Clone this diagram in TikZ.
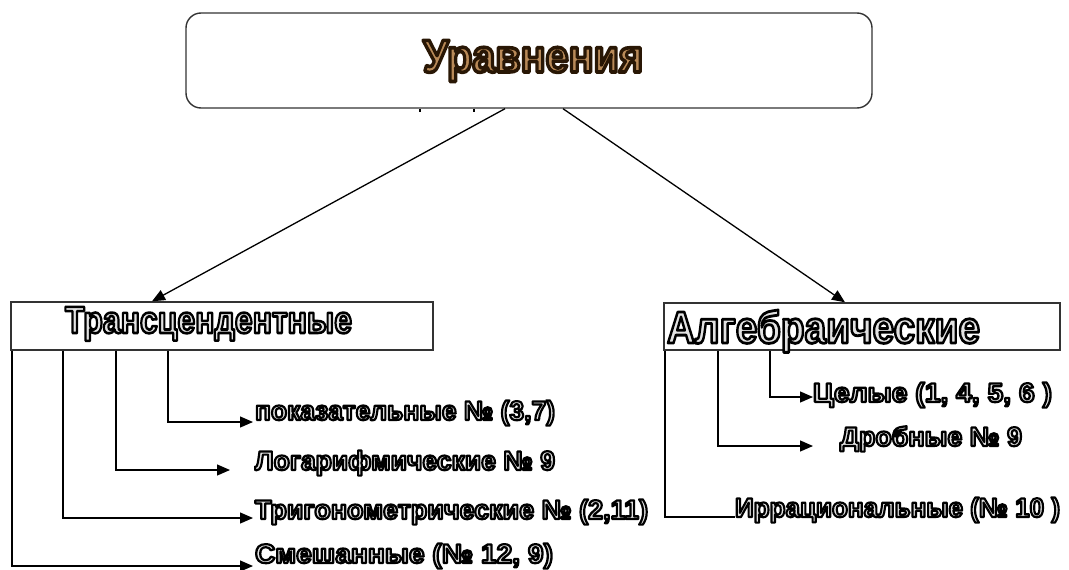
\documentclass[tikz,border=0pt]{standalone}
\usepackage{fontspec}
\setmainfont{Liberation Sans}
\usetikzlibrary{arrows.meta}
\definecolor{fillgray}{HTML}{E2E2E2}
\definecolor{bronze}{HTML}{B98A58}
\newcommand{\outl}[3]{\special{pdf:literal direct #2 RG 2 Tr #1 w 1 j}#3\special{pdf:literal direct 0 Tr}}
\newcommand{\wart}[4]{\resizebox{#1}{\height}{\fontsize{#2}{#2}\selectfont\bfseries\textcolor{fillgray}{\outl{#3}{0 0 0}{#4}}}}
\newcommand{\wtitle}[2]{\resizebox{#1}{\height}{\fontsize{46}{46}\selectfont\bfseries\textcolor{bronze}{\outl{3.6}{0.16 0.09 0.02}{#2}}}}
\tikzset{
  box/.style={draw=black!80, line width=1.4pt, inner sep=0pt},
  lbl/.style={anchor=base west, inner sep=0pt, outer sep=0pt},
  conn/.style={draw=black, line width=1.3pt},
  arr/.style={conn, -{Triangle[length=13pt,width=11pt]}},
}
\begin{document}
\begin{tikzpicture}[x=1pt,y=-1pt]
\useasboundingbox (0,0) rectangle (1069,570);
% boxes
\node[box, rounded corners=15pt, minimum width=686pt, minimum height=95pt] (top) at (529,60.5) {};
\node[box, minimum width=422pt, minimum height=48pt] (trans) at (222,326) {};
\node[box, minimum width=396pt, minimum height=47pt] (alg) at (862,326.5) {};
% titles
\node[lbl] (ttl) at (423,72) {\wtitle{220pt}{Уравнения}};
\node[lbl] (ttr) at (65,333) {\wart{287pt}{38}{2.6}{Трансцендентные}};
\node[lbl] (tal) at (667,343) {\wart{313pt}{45}{2.8}{Алгебраические}};
% x positions
\coordinate (xa) at (505,0);
\coordinate (xb) at (563,0);
\coordinate (xc) at (152,0);
\coordinate (xd) at (845,0);
\coordinate (x1) at (12,0);
\coordinate (x2) at (63,0);
\coordinate (x3) at (116,0);
\coordinate (x4) at (168,0);
\coordinate (x5) at (665,0);
\coordinate (x6) at (718,0);
\coordinate (x7) at (770,0);
\coordinate (k1) at (420,0);
\coordinate (k2) at (474,0);
% arrow ends
\coordinate (e1) at (253,422);
\coordinate (e2) at (230,470);
\coordinate (e3) at (253,518);
\coordinate (e4) at (253,566);
\coordinate (e5) at (813,397);
\coordinate (e6) at (813,446);
\coordinate (e7) at (805,517);
% main connectors
\draw[arr] (top.south -| xa) -- (trans.north -| xc);
\draw[arr] (top.south -| xb) -- (alg.north -| xd);
% small ticks under top box
\draw[conn] (top.south -| k1) -- ++(0,3);
\draw[conn] (top.south -| k2) -- ++(0,3);
% left branch connectors
\draw[arr] (trans.south -| x4) |- (e1);
\draw[arr] (trans.south -| x3) |- (e2);
\draw[arr] (trans.south -| x2) |- (e3);
\draw[arr] (trans.south -| x1) |- (e4);
% right branch connectors
\draw[arr] (alg.south -| x7) |- (e5);
\draw[arr] (alg.south -| x6) |- (e6);
\draw[arr] (alg.south -| x5) |- (e7);
% labels
\node[lbl] (l1) at (255,420) {\wart{300pt}{27}{2.2}{показательные № (3,7)}};
\node[lbl] (l2) at (255,470) {\wart{300pt}{27}{2.2}{Логарифмические № 9}};
\node[lbl] (l3) at (255,519) {\wart{393pt}{27}{2.2}{Тригонометрические № (2,11)}};
\node[lbl] (l4) at (255,563) {\wart{298pt}{27}{2.2}{Смешанные (№ 12, 9)}};
\node[lbl] (r1) at (813,402) {\wart{239pt}{27}{2.2}{Целые (1, 4, 5, 6 )}};
\node[lbl] (r2) at (840,446) {\wart{182pt}{27}{2.2}{Дробные № 9}};
\node[lbl, fill=white] (r3) at (735,517) {\wart{325pt}{27}{2.2}{Иррациональные (№ 10 )}};
\end{tikzpicture}
\end{document}
